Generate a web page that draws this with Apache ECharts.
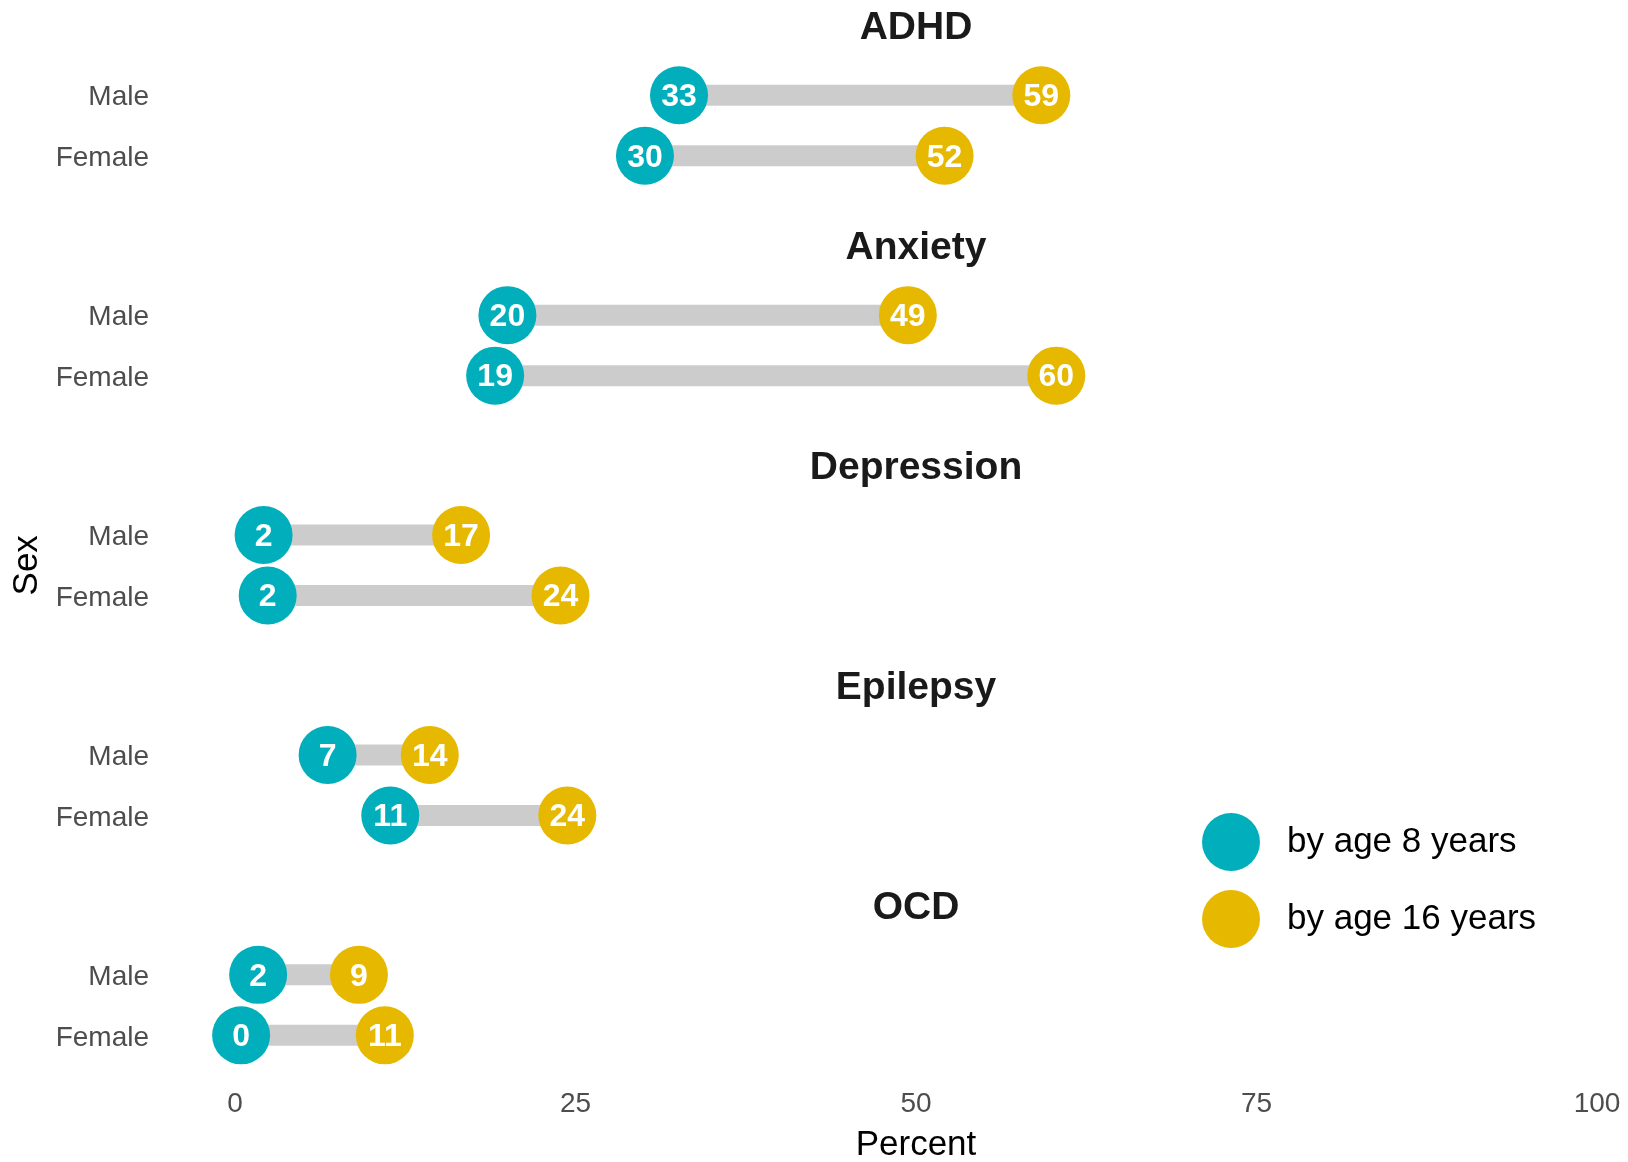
<!DOCTYPE html>
<html>
<head>
<meta charset="utf-8">
<script src="https://cdn.jsdelivr.net/npm/echarts@6/dist/echarts.min.js"></script>
<style>html,body{margin:0;padding:0;background:#fff}#c{width:1628px;height:1162px}</style>
</head>
<body>
<div id="c"></div>
<script>
const categories = ['ADHD', 'Anxiety', 'Depression', 'Epilepsy', 'OCD'];
const sexes = ['Male', 'Female'];
const age8Male = [32.6, 20.0, 2.1, 6.8, 1.7];
const age8Female = [30.1, 19.1, 2.4, 11.4, 0.45];
const age16Male = [59.2, 49.4, 16.6, 14.3, 9.1];
const age16Female = [52.1, 60.3, 23.9, 24.4, 11.0];
const xTicks = [0, 25, 50, 75, 100];
const seriesNames = ['by age 8 years', 'by age 16 years'];

const FONT = 'Liberation Sans, Arial, sans-serif';
const C8 = '#00AFBB', C16 = '#E7B800', SEG = '#CCCCCC';
const LEFT = 235, RIGHT = 31, TOP0 = 65, PERIOD = 219.9, PH = 121;

const grids = [], xAxes = [], yAxes = [], titles = [], series = [];
categories.forEach((cat, i) => {
  const top = TOP0 + i * PERIOD;
  grids.push({left: LEFT, right: RIGHT, top: top, height: PH, outerBoundsMode: 'none', containLabel: false});
  const last = i === categories.length - 1;
  xAxes.push({
    type: 'value', gridIndex: i, min: xTicks[0], max: xTicks[xTicks.length - 1], interval: xTicks[1] - xTicks[0],
    axisLine: {show: false}, axisTick: {show: false}, splitLine: {show: false},
    axisLabel: {show: last, fontSize: 28, color: '#4D4D4D', fontFamily: FONT, margin: 25},
    name: last ? 'Percent' : '', nameLocation: 'middle', nameGap: 62,
    nameTextStyle: {fontSize: 35, color: '#000', fontFamily: FONT}
  });
  yAxes.push({
    type: 'category', gridIndex: i, data: sexes.slice().reverse(),
    axisLine: {show: false}, axisTick: {show: false}, splitLine: {show: false},
    axisLabel: {fontSize: 28, color: '#4D4D4D', fontFamily: FONT, margin: 86, verticalAlign: 'top', lineHeight: 5},
    name: i === 2 ? 'Sex' : '', nameLocation: 'middle', nameRotate: 90, nameGap: 185,
    nameTextStyle: {fontSize: 35, color: '#000', fontFamily: FONT}
  });
  titles.push({
    text: cat, left: 916, top: top - 37 - 19, textAlign: 'center', padding: 0,
    textStyle: {fontSize: 39, fontWeight: 'bold', color: '#1A1A1A', fontFamily: FONT, lineHeight: 39}
  });
  series.push({
    type: 'custom', xAxisIndex: i, yAxisIndex: i, z: 1, silent: true,
    encode: {x: [0, 1], y: 2},
    data: [[age8Male[i], age16Male[i], 'Male'], [age8Female[i], age16Female[i], 'Female']],
    renderItem: function (params, api) {
      const yi = api.value(2);
      const p1 = api.coord([api.value(0), yi]);
      const p2 = api.coord([api.value(1), yi]);
      return {type: 'line', shape: {x1: p1[0], y1: p1[1], x2: p2[0], y2: p2[1]},
        style: {stroke: SEG, lineWidth: 21, lineCap: 'butt'}};
    }
  });
  [[age8Male, age8Female, C8], [age16Male, age16Female, C16]].forEach((s, k) => {
    series.push({
      type: 'scatter', name: seriesNames[k], xAxisIndex: i, yAxisIndex: i, z: 3,
      symbol: 'circle', symbolSize: 58, itemStyle: {color: s[2], opacity: 1},
      data: [[s[0][i], 'Male'], [s[1][i], 'Female']],
      label: {show: true, position: 'inside', color: '#fff', fontWeight: 'bold', fontSize: 32, fontFamily: FONT,
        offset: [0, 2],
        formatter: p => String(Math.round(p.value[0]))}
    });
  });
});

const chart = echarts.init(document.getElementById('c'), null, {renderer: 'canvas'});
chart.setOption({
  animation: false,
  backgroundColor: '#fff',
  title: titles,
  grid: grids, xAxis: xAxes, yAxis: yAxes, series: series,
  legend: {
    data: seriesNames.map(n => ({name: n, icon: 'circle'})),
    orient: 'vertical', left: 1197, top: 808, itemWidth: 58, itemHeight: 58, itemGap: 19,
    textStyle: {fontSize: 35, color: '#000', fontFamily: FONT, padding: [0, 0, 0, 22]}
  }
});
</script>
</body>
</html>
